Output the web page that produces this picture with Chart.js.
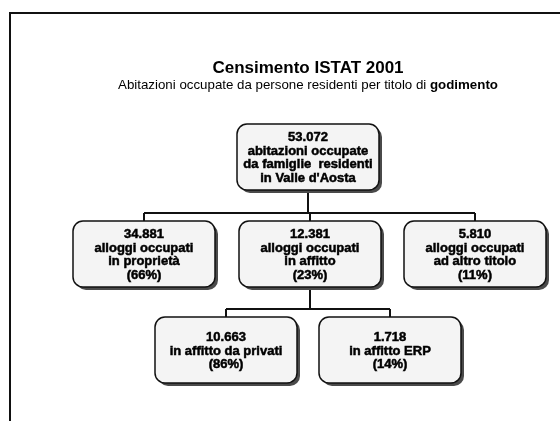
<!DOCTYPE html>
<html>
<head>
<meta charset="utf-8">
<script src="https://cdn.jsdelivr.net/npm/chart.js@4.4.0/dist/chart.umd.min.js"></script>
<style>
  html, body { margin: 0; padding: 0; background: #fff; }
  #wrap { width: 560px; height: 421px; }
</style>
</head>
<body>
<div id="wrap"><canvas id="tree" width="560" height="421"></canvas></div>
<script>
// tree data: value, share of parent, label lines, parent index
const nodeValues = [53072, 34881, 12381, 5810, 10663, 1718];
const nodeShares = [null, 66, 23, 11, 86, 14];
const nodeLabels = [
    ['abitazioni occupate', 'da famiglie  residenti', "in Valle d'Aosta"],
    ['alloggi occupati', 'in proprietà'],
    ['alloggi occupati', 'in affitto'],
    ['alloggi occupati', 'ad altro titolo'],
    ['in affitto da privati'],
    ['in affitto ERP']
];
const nodeParent = [-1, 0, 0, 0, 2, 2];

const titleText = 'Censimento ISTAT 2001';
const subtitleText = 'Abitazioni occupate da persone residenti per titolo di ';
const subtitleBold = 'godimento';

// layout, in the units of the hidden x / y scales (page coordinates)
const nodeX = [308, 144, 310, 475, 226, 390];
const nodeY = [157, 254, 254, 254, 350, 350];
const boxW = 142;
const boxH = 66;
const boxR = 10;
const barGap = 8; // horizontal connector sits this far above the child boxes

function fmt(n) {
    return String(n).replace(/\B(?=(\d{3})+(?!\d))/g, '.');
}

// connector lines: parent -> bar -> children, gaps via null y
const links = [];
nodeParent.forEach((p, i) => {
    if (p < 0) return;
    const kids = nodeParent.map((q, j) => q === p ? j : -1).filter(j => j >= 0);
    if (kids[0] !== i) return; // handle each parent once
    const barY = nodeY[i] - boxH / 2 - barGap;
    links.push({ x: nodeX[p], y: nodeY[p] + boxH / 2 }, { x: nodeX[p], y: barY }, { x: nodeX[p], y: null });
    links.push({ x: nodeX[kids[0]], y: barY }, { x: nodeX[kids[kids.length - 1]], y: barY }, { x: 0, y: null });
    kids.forEach(k => {
        links.push({ x: nodeX[k], y: barY }, { x: nodeX[k], y: nodeY[k] - boxH / 2 }, { x: 0, y: null });
    });
});

const nodes = nodeValues.map((v, i) => ({ x: nodeX[i], y: nodeY[i] }));

function roundBox(ctx, x, y, w, h, r) {
    ctx.beginPath();
    ctx.moveTo(x + r, y);
    ctx.arcTo(x + w, y, x + w, y + h, r);
    ctx.arcTo(x + w, y + h, x, y + h, r);
    ctx.arcTo(x, y + h, x, y, r);
    ctx.arcTo(x, y, x + w, y, r);
    ctx.closePath();
}

const slidePlugin = {
    id: 'slide',
    beforeDatasetsDraw(chart) {
        const { ctx, scales: { x, y } } = chart;
        ctx.save();
        // slide frame (left and top edges)
        ctx.strokeStyle = '#111';
        ctx.lineWidth = 2;
        ctx.beginPath();
        ctx.moveTo(x.getPixelForValue(10), y.getPixelForValue(421));
        ctx.lineTo(x.getPixelForValue(10), y.getPixelForValue(13));
        ctx.lineTo(x.getPixelForValue(560), y.getPixelForValue(13));
        ctx.stroke();

        // titles
        const cx = x.getPixelForValue(308);
        ctx.fillStyle = '#000';
        ctx.textAlign = 'center';
        ctx.textBaseline = 'alphabetic';
        ctx.font = 'bold 17px "Liberation Sans", Arial, sans-serif';
        ctx.fillText(titleText, cx, y.getPixelForValue(73));

        const regFont = '13.3px "Liberation Sans", Arial, sans-serif';
        const boldFont = 'bold 13.3px "Liberation Sans", Arial, sans-serif';
        ctx.font = regFont;
        const w1 = ctx.measureText(subtitleText).width;
        ctx.font = boldFont;
        const w2 = ctx.measureText(subtitleBold).width;
        const sx = cx - (w1 + w2) / 2;
        const sy = y.getPixelForValue(89);
        ctx.textAlign = 'left';
        ctx.font = regFont;
        ctx.fillText(subtitleText, sx, sy);
        ctx.font = boldFont;
        ctx.fillText(subtitleBold, sx + w1, sy);
        ctx.restore();
    },
    afterDatasetsDraw(chart) {
        const { ctx } = chart;
        const meta = chart.getDatasetMeta(1);
        ctx.save();
        meta.data.forEach((pt, i) => {
            const left = pt.x - boxW / 2;
            const top = pt.y - boxH / 2;
            // shadow
            roundBox(ctx, left + 3, top + 3, boxW, boxH, boxR);
            ctx.fillStyle = '#4a4a4a';
            ctx.fill();
            // box
            roundBox(ctx, left, top, boxW, boxH, boxR);
            ctx.fillStyle = '#f4f4f4';
            ctx.fill();
            ctx.strokeStyle = '#111';
            ctx.lineWidth = 1.5;
            ctx.stroke();

            const lines = [fmt(nodeValues[i])].concat(nodeLabels[i]);
            if (nodeShares[i] !== null) lines.push('(' + nodeShares[i] + '%)');
            const lh = 13.5;
            let ty = pt.y - (lines.length - 1) * lh / 2;
            ctx.fillStyle = '#000';
            ctx.strokeStyle = '#000';
            ctx.lineWidth = 0.5;
            ctx.textAlign = 'center';
            ctx.textBaseline = 'middle';
            ctx.font = 'bold 13px "Liberation Sans", Arial, sans-serif';
            lines.forEach(t => {
                ctx.fillText(t, pt.x, ty + 1);
                ctx.strokeText(t, pt.x, ty + 1);
                ty += lh;
            });
        });
        ctx.restore();
    }
};

new Chart(document.getElementById('tree'), {
    type: 'scatter',
    data: {
        datasets: [
            {
                label: 'links',
                data: links,
                showLine: true,
                spanGaps: false,
                borderColor: '#111',
                borderWidth: 2,
                pointRadius: 0
            },
            {
                label: 'nodes',
                data: nodes,
                pointRadius: 0,
                showLine: false
            }
        ]
    },
    options: {
        responsive: false,
        animation: false,
        events: [],
        layout: { padding: 0 },
        scales: {
            x: { type: 'linear', min: 0, max: 560, display: false },
            y: { type: 'linear', min: 0, max: 421, reverse: true, display: false }
        },
        plugins: {
            legend: { display: false },
            tooltip: { enabled: false }
        }
    },
    plugins: [slidePlugin]
});
</script>
</body>
</html>
